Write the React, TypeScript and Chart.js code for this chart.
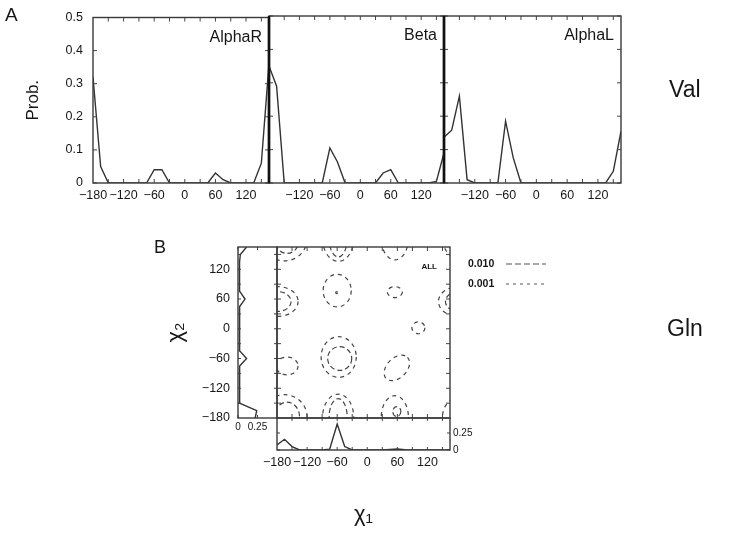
import React, { useEffect, useRef } from "react";
import { Chart, registerables } from "chart.js";
Chart.register(...registerables);

const W = 729;
const H = 536;
const FONT = "'Liberation Sans', Arial, Helvetica, sans-serif";
const INK = "#161616";

// ---------- data ----------
const ANGLES = [-180, -165, -150, -135, -120, -105, -90, -75, -60, -45, -30, -15, 0, 15, 30, 45, 60, 75, 90, 105, 120, 135, 150, 165];
const ALPHA_R = [0.32, 0.05, 0, 0, 0, 0, 0, 0, 0.04, 0.04, 0, 0, 0, 0, 0, 0, 0.03, 0.01, 0, 0, 0, 0, 0.06, 0.36];
const BETA = [0.35, 0.29, 0, 0, 0, 0, 0, 0, 0.105, 0.063, 0, 0, 0, 0, 0, 0.03, 0.04, 0, 0, 0, 0, 0, 0.005, 0.09];
const ALPHA_L = [0.137, 0.158, 0.26, 0.01, 0, 0, 0, 0, 0.185, 0.075, 0, 0, 0, 0, 0, 0, 0, 0, 0, 0, 0, 0, 0.035, 0.155];
const REGION_NAMES = ["AlphaR", "Beta", "AlphaL"];
const PROB_TICKS = [0, 0.1, 0.2, 0.3, 0.4, 0.5];
const ANGLE_TICKS_FULL = [-180, -120, -60, 0, 60, 120];
const ANGLE_TICKS_INNER = [-120, -60, 0, 60, 120];
const ANGLE_MINOR = [-150, -120, -90, -60, -30, 0, 30, 60, 90, 120, 150];

const CHI1_DIST = [0.074, 0.157, 0.05, 0, 0, 0, 0, 0.01, 0.38, 0.05, 0, 0, 0, 0, 0, 0.008, 0.015, 0.005, 0, 0, 0, 0, 0, 0];
const CHI2_DIST = [0.22, 0.24, 0.02, 0.02, 0.02, 0.02, 0.02, 0.025, 0.11, 0.025, 0.02, 0.02, 0.02, 0.02, 0.02, 0.025, 0.09, 0.025, 0.02, 0.02, 0.02, 0.02, 0.03, 0.11];
const MARGIN_TICKS = [0, 0.25];

const CONTOUR_LEVELS = ["0.010", "0.001"];
const CONTOUR_CHI1 = [-60, -61, -57, -55, -58, -58, -178, -178, 55, 102, 59, -160, 55, 59, -165, -160];
const CONTOUR_CHI2 = [77, 73, -57, -60, -178, -178, 55, 55, 74, 2, -79, -75, -178, -167, -178, -178];
const CONTOUR_RX = [28, 2, 35, 24, 31, 18, 40, 26, 15, 13, 30, 22, 27, 8, 45, 25];
const CONTOUR_RY = [33, 2, 41, 24, 46, 37, 30, 20, 11, 12, 20, 18, 43, 10, 45, 30];
const CONTOUR_LEVEL = [1, 0, 1, 0, 1, 0, 1, 0, 1, 1, 1, 1, 1, 0, 1, 0];
const CONTOUR_TILT = [0, 0, 0, 0, 0, 0, 0, 0, 0, 0, 45, 0, 0, 0, 0, 0];

// ---------- helpers ----------
const fmtAngle = (v: number) => (v < 0 ? "\u2212" + Math.abs(v) : String(v));
const setTicks = (vals: number[]) => (axis: any) => {
  axis.ticks = vals.map((v) => ({ value: v }));
};
const fixW = (w: number) => (s: any) => {
  s.width = w;
};
const fixH = (h: number) => (s: any) => {
  s.height = h;
};

type DecoOpts = {
  xTicks?: number[];
  yTicks?: number[];
  xSides?: string[];
  ySides?: string[];
  len?: number;
  thick?: string[];
  label?: string;
};

function deco(o: DecoOpts) {
  return {
    id: "deco",
    afterDraw(chart: any) {
      const { ctx, chartArea: a, scales } = chart;
      const xs = scales.x;
      const ys = scales.y;
      const len = o.len ?? 4;
      const xSides = o.xSides || ["top", "bottom"];
      const ySides = o.ySides || ["left", "right"];
      ctx.save();
      ctx.setLineDash([]);
      ctx.strokeStyle = "#444";
      ctx.lineWidth = 1;
      ctx.beginPath();
      (o.xTicks || []).forEach((v) => {
        const p = xs.getPixelForValue(v);
        if (xSides.includes("bottom")) {
          ctx.moveTo(p, a.bottom);
          ctx.lineTo(p, a.bottom - len);
        }
        if (xSides.includes("top")) {
          ctx.moveTo(p, a.top);
          ctx.lineTo(p, a.top + len);
        }
      });
      (o.yTicks || []).forEach((v) => {
        const p = ys.getPixelForValue(v);
        if (ySides.includes("left")) {
          ctx.moveTo(a.left, p);
          ctx.lineTo(a.left + len, p);
        }
        if (ySides.includes("right")) {
          ctx.moveTo(a.right, p);
          ctx.lineTo(a.right - len, p);
        }
      });
      ctx.stroke();
      ctx.strokeStyle = "#3a3a3a";
      ctx.lineWidth = 1.4;
      ctx.strokeRect(a.left, a.top, a.right - a.left, a.bottom - a.top);
      (o.thick || []).forEach((side) => {
        ctx.strokeStyle = "#111";
        ctx.lineWidth = 2.4;
        ctx.beginPath();
        const x = side === "left" ? a.left : a.right;
        ctx.moveTo(x, a.top);
        ctx.lineTo(x, a.bottom);
        ctx.stroke();
      });
      if (o.label) {
        ctx.fillStyle = INK;
        ctx.font = `16px ${FONT}`;
        ctx.textAlign = "right";
        ctx.textBaseline = "alphabetic";
        ctx.fillText(o.label, a.right - 7, a.top + 24);
      }
      ctx.restore();
    },
  };
}

const contourPlugin = {
  id: "contours",
  afterDatasetsDraw(chart: any) {
    const { ctx, chartArea: a, scales } = chart;
    const xs = scales.x;
    const ys = scales.y;
    const sx = Math.abs(xs.getPixelForValue(1) - xs.getPixelForValue(0));
    const sy = Math.abs(ys.getPixelForValue(1) - ys.getPixelForValue(0));
    ctx.save();
    ctx.beginPath();
    ctx.rect(a.left, a.top, a.right - a.left, a.bottom - a.top);
    ctx.clip();
    ctx.strokeStyle = "#444";
    ctx.lineWidth = 1.2;
    const shifts = [-360, 0, 360];
    for (let i = 0; i < CONTOUR_CHI1.length; i++) {
      const rx = CONTOUR_RX[i] * sx;
      const ry = CONTOUR_RY[i] * sy;
      ctx.setLineDash(CONTOUR_LEVEL[i] === 0 ? [5, 3] : [4, 4]);
      for (const dx of shifts) {
        for (const dy of shifts) {
          const cx = xs.getPixelForValue(CONTOUR_CHI1[i] + dx);
          const cy = ys.getPixelForValue(CONTOUR_CHI2[i] + dy);
          const r = Math.max(rx, ry);
          if (cx + r < a.left || cx - r > a.right || cy + r < a.top || cy - r > a.bottom) continue;
          ctx.beginPath();
          ctx.ellipse(cx, cy, rx, ry, (-CONTOUR_TILT[i] * Math.PI) / 180, 0, Math.PI * 2);
          ctx.stroke();
        }
      }
    }
    ctx.restore();
  },
  afterDraw(chart: any) {
    const { ctx, chartArea: a } = chart;
    ctx.save();
    ctx.fillStyle = INK;
    ctx.font = `bold 8px ${FONT}`;
    ctx.textAlign = "right";
    ctx.textBaseline = "middle";
    ctx.fillText("ALL", a.right - 13, a.top + 20);
    ctx.font = `bold 10.5px ${FONT}`;
    ctx.textAlign = "left";
    ctx.strokeStyle = "#555";
    ctx.lineWidth = 1.2;
    CONTOUR_LEVELS.forEach((lab, k) => {
      const y = a.top + 17 + k * 20;
      ctx.fillText(lab, a.right + 18, y);
      ctx.setLineDash(k === 0 ? [6, 3] : [3, 4]);
      ctx.beginPath();
      ctx.moveTo(a.right + 56, y);
      ctx.lineTo(a.right + 96, y);
      ctx.stroke();
    });
    ctx.restore();
  },
};

const hiddenGrid = { display: false, drawTicks: false };
const noBorder = { display: false };

// ---------- chart configs ----------
const PANEL_LEFT = [93, 269, 444];
const PANEL_RIGHT = [269, 444, 621];
const PANEL_TOP = 16;
const PANEL_BOTTOM = 183;
const PANEL_DATA = [ALPHA_R, BETA, ALPHA_L];

function panelAConfig(i: number) {
  const first = i === 0;
  const yW = first ? 93 : 0;
  const xH = 30;
  return {
    type: "line",
    data: {
      datasets: [
        {
          data: ANGLES.map((a, k) => ({ x: a, y: PANEL_DATA[i][k] })),
          borderColor: "#333",
          borderWidth: 1.4,
          pointRadius: 0,
          tension: 0,
          fill: false,
        },
      ],
    },
    options: {
      animation: false,
      responsive: false,
      events: [],
      layout: {
        padding: {
          left: PANEL_LEFT[i] - yW,
          right: W - PANEL_RIGHT[i],
          top: PANEL_TOP,
          bottom: H - PANEL_BOTTOM - xH,
        },
      },
      plugins: { legend: { display: false }, tooltip: { enabled: false } },
      scales: {
        x: {
          type: "linear",
          min: -180,
          max: 165,
          grid: hiddenGrid,
          border: noBorder,
          afterBuildTicks: setTicks(first ? ANGLE_TICKS_FULL : ANGLE_TICKS_INNER),
          afterFit: fixH(xH),
          ticks: {
            autoSkip: false,
            maxRotation: 0,
            minRotation: 0,
            padding: 5,
            color: INK,
            font: { family: FONT, size: 12.5 },
            callback: (v: number) => fmtAngle(v),
          },
        },
        y: {
          type: "linear",
          display: first,
          min: 0,
          max: 0.5,
          grid: hiddenGrid,
          border: noBorder,
          afterBuildTicks: setTicks(PROB_TICKS),
          afterFit: fixW(yW),
          ticks: {
            padding: 10,
            color: INK,
            font: { family: FONT, size: 12.5 },
            callback: (v: number) => (v === 0 ? "0" : v.toFixed(1)),
          },
          title: {
            display: true,
            text: "Prob.",
            color: INK,
            font: { family: FONT, size: 17 },
            padding: { top: 23, bottom: 0 },
          },
        },
      },
    },
    plugins: [
      deco({
        xTicks: ANGLE_MINOR,
        yTicks: PROB_TICKS,
        thick: i === 0 ? ["right"] : i === 1 ? ["left", "right"] : ["left"],
        label: REGION_NAMES[i],
      }),
    ],
  };
}

const B_LEFT = 277;
const B_RIGHT = 450;
const B_TOP = 247;
const B_BOTTOM = 418;
const M_LEFT = 238;
const M_BOTTOM = 450;

function contourConfig() {
  return {
    type: "scatter",
    data: { datasets: [] },
    options: {
      animation: false,
      responsive: false,
      events: [],
      layout: { padding: { left: B_LEFT, right: W - B_RIGHT, top: B_TOP, bottom: H - B_BOTTOM } },
      plugins: { legend: { display: false }, tooltip: { enabled: false } },
      scales: {
        x: { type: "linear", display: false, min: -180, max: 165 },
        y: { type: "linear", display: false, min: -180, max: 165 },
      },
    },
    plugins: [contourPlugin, deco({ xTicks: ANGLE_MINOR, yTicks: ANGLE_MINOR, len: 4 })],
  };
}

function leftMarginalConfig() {
  const yW = 78;
  const xH = 20;
  return {
    type: "scatter",
    data: {
      datasets: [
        {
          data: ANGLES.map((a, k) => ({ x: CHI2_DIST[k], y: a })),
          showLine: true,
          borderColor: "#333",
          borderWidth: 1.4,
          pointRadius: 0,
          tension: 0,
        },
      ],
    },
    options: {
      animation: false,
      responsive: false,
      events: [],
      layout: { padding: { left: M_LEFT - yW, right: W - B_LEFT, top: B_TOP, bottom: H - B_BOTTOM - xH } },
      plugins: { legend: { display: false }, tooltip: { enabled: false } },
      scales: {
        x: {
          type: "linear",
          min: 0,
          max: 0.5,
          grid: hiddenGrid,
          border: noBorder,
          afterBuildTicks: setTicks(MARGIN_TICKS),
          afterFit: fixH(xH),
          ticks: {
            autoSkip: false,
            maxRotation: 0,
            padding: 3,
            color: INK,
            font: { family: FONT, size: 10 },
            callback: (v: number) => (v === 0 ? "0" : String(v)),
          },
        },
        y: {
          type: "linear",
          min: -180,
          max: 165,
          grid: hiddenGrid,
          border: noBorder,
          afterBuildTicks: setTicks(ANGLE_TICKS_FULL),
          afterFit: fixW(yW),
          ticks: {
            padding: 8,
            color: INK,
            font: { family: FONT, size: 12.5 },
            callback: (v: number) => fmtAngle(v),
          },
          title: {
            display: true,
            text: "\u03c7\u2082",
            color: INK,
            font: { family: FONT, size: 22 },
            padding: { top: 3, bottom: 0 },
          },
        },
      },
    },
    plugins: [deco({ xTicks: MARGIN_TICKS, yTicks: ANGLE_MINOR, len: 3 })],
  };
}

function bottomMarginalConfig() {
  const yW = 40;
  const xH = 80;
  return {
    type: "scatter",
    data: {
      datasets: [
        {
          data: ANGLES.map((a, k) => ({ x: a, y: CHI1_DIST[k] })),
          showLine: true,
          borderColor: "#333",
          borderWidth: 1.4,
          pointRadius: 0,
          tension: 0,
        },
      ],
    },
    options: {
      animation: false,
      responsive: false,
      events: [],
      layout: { padding: { left: B_LEFT, right: W - B_RIGHT - yW, top: B_BOTTOM, bottom: H - M_BOTTOM - xH } },
      plugins: { legend: { display: false }, tooltip: { enabled: false } },
      scales: {
        x: {
          type: "linear",
          min: -180,
          max: 165,
          grid: hiddenGrid,
          border: noBorder,
          afterBuildTicks: setTicks(ANGLE_TICKS_FULL),
          afterFit: fixH(xH),
          ticks: {
            autoSkip: false,
            maxRotation: 0,
            minRotation: 0,
            padding: 5,
            color: INK,
            font: { family: FONT, size: 12.5 },
            callback: (v: number) => fmtAngle(v),
          },
          title: {
            display: true,
            text: "\u03c7\u2081",
            color: INK,
            font: { family: FONT, size: 22 },
            padding: { top: 0, bottom: 2 },
          },
        },
        y: {
          type: "linear",
          position: "right",
          min: 0,
          max: 0.47,
          grid: hiddenGrid,
          border: noBorder,
          afterBuildTicks: setTicks(MARGIN_TICKS),
          afterFit: fixW(yW),
          ticks: {
            padding: 3,
            color: INK,
            font: { family: FONT, size: 10 },
            callback: (v: number) => (v === 0 ? "0" : String(v)),
          },
        },
      },
    },
    plugins: [deco({ xTicks: ANGLE_MINOR, yTicks: MARGIN_TICKS, len: 3 })],
  };
}

function ChartCanvas({ make }: { make: () => any }) {
  const ref = useRef<HTMLCanvasElement>(null);
  useEffect(() => {
    const chart = new Chart(ref.current as HTMLCanvasElement, make());
    return () => chart.destroy();
  }, []);
  return (
    <canvas
      ref={ref}
      width={W}
      height={H}
      style={{ position: "absolute", left: 0, top: 0, width: W, height: H }}
    />
  );
}

const labelStyle = (left: number, top: number, size: number): React.CSSProperties => ({
  position: "absolute",
  left,
  top,
  fontFamily: FONT,
  fontSize: size,
  lineHeight: `${size}px`,
  color: INK,
  margin: 0,
  whiteSpace: "nowrap",
});

export default function App() {
  return (
    <div style={{ position: "absolute", left: 0, top: 0, width: W, height: H, background: "#fff", overflow: "hidden" }}>
      <ChartCanvas make={() => panelAConfig(0)} />
      <ChartCanvas make={() => panelAConfig(1)} />
      <ChartCanvas make={() => panelAConfig(2)} />
      <ChartCanvas make={contourConfig} />
      <ChartCanvas make={leftMarginalConfig} />
      <ChartCanvas make={bottomMarginalConfig} />
      <div style={labelStyle(5, 5, 19)}>A</div>
      <div style={labelStyle(154, 238, 18)}>B</div>
      <div style={labelStyle(669, 78, 23)}>Val</div>
      <div style={labelStyle(667, 317, 23)}>Gln</div>
    </div>
  );
}
